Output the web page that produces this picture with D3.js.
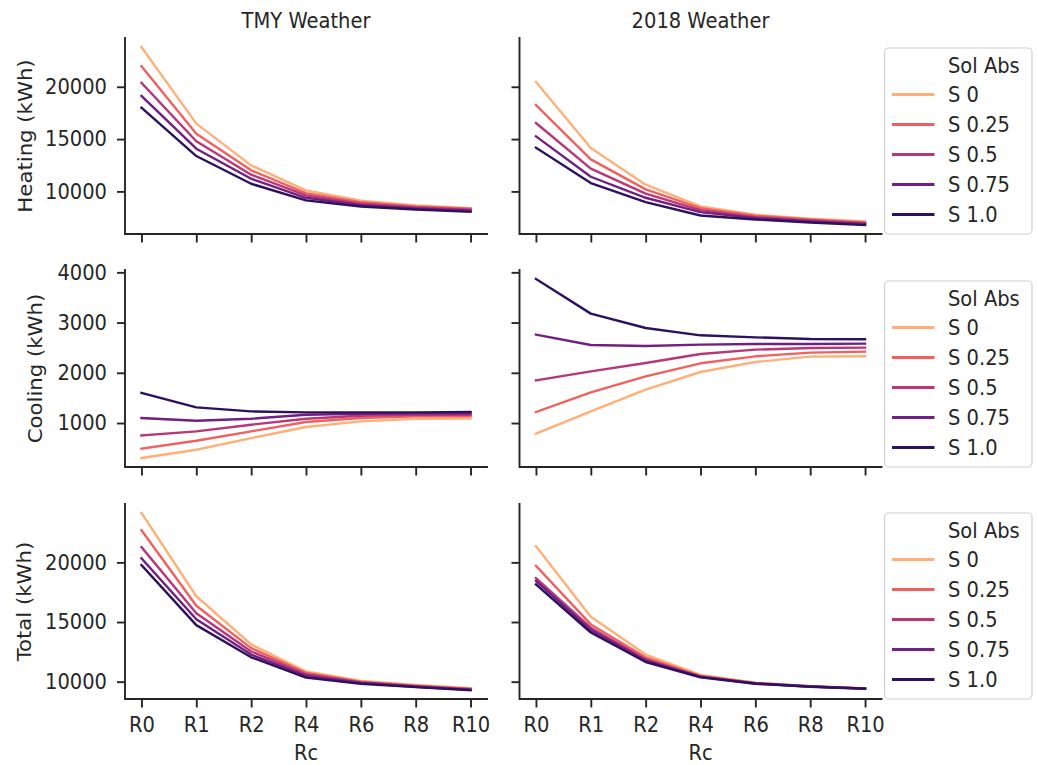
<!DOCTYPE html>
<html>
<head>
<meta charset="utf-8">
<script src="https://cdn.jsdelivr.net/npm/d3@7"></script>
<style>
  html, body { margin: 0; padding: 0; background: #ffffff; }
  svg { display: block; }
  text { font-family: "DejaVu Sans", sans-serif; fill: #262626; }
</style>
</head>
<body>
<svg id="chart" width="1038" height="765"></svg>
<script>
// ---------------- data ----------------
const categories = ["R0", "R1", "R2", "R4", "R6", "R8", "R10"];
const solAbs = ["S 0", "S 0.25", "S 0.5", "S 0.75", "S 1.0"];
const weatherTitles = ["TMY Weather", "2018 Weather"];
const rowLabels = ["Heating (kWh)", "Cooling (kWh)", "Total (kWh)"];
const xLabel = "Rc";
const legendTitle = "Sol Abs";

const yTicksHeating = [10000, 15000, 20000];
const yTicksCooling = [1000, 2000, 3000, 4000];
const yTicksTotal = [10000, 15000, 20000];

// one row per Sol Abs level (S 0 ... S 1.0), one column per Rc category
const heatingTMY = [
  [23810, 16480, 12490, 10100, 9110, 8660, 8400],
  [21960, 15520, 12010, 9840, 8980, 8560, 8340],
  [20370, 14790, 11600, 9620, 8820, 8460, 8250],
  [19120, 14080, 11210, 9390, 8690, 8370, 8150],
  [18000, 13380, 10730, 9140, 8560, 8270, 8050]
];
const heating2018 = [
  [20460, 14150, 10640, 8560, 7770, 7380, 7130],
  [18260, 13060, 10190, 8400, 7670, 7320, 7030],
  [16540, 12170, 9780, 8210, 7540, 7220, 6970],
  [15260, 11400, 9390, 8020, 7450, 7130, 6870],
  [14180, 10800, 8980, 7700, 7320, 7030, 6780]
];
const coolingTMY = [
  [303, 469, 700, 920, 1033, 1086, 1090],
  [489, 648, 834, 1020, 1100, 1133, 1135],
  [754, 834, 967, 1086, 1146, 1166, 1166],
  [1100, 1046, 1086, 1166, 1186, 1192, 1195],
  [1600, 1312, 1232, 1212, 1212, 1212, 1219]
];
const cooling2018 = [
  [788, 1232, 1664, 2016, 2215, 2321, 2328],
  [1219, 1611, 1930, 2189, 2328, 2401, 2421],
  [1850, 2029, 2195, 2374, 2461, 2494, 2500],
  [2760, 2554, 2534, 2560, 2574, 2574, 2580],
  [3868, 3178, 2892, 2746, 2706, 2673, 2667]
];
const totalTMY = [
  [24150, 17160, 13120, 10850, 10060, 9720, 9460],
  [22700, 16360, 12810, 10740, 10000, 9660, 9400],
  [21280, 15740, 12530, 10620, 9940, 9630, 9375],
  [20340, 15230, 12270, 10480, 9890, 9570, 9320],
  [19770, 14740, 12045, 10340, 9830, 9545, 9290]
];
const total2018 = [
  [21360, 15450, 12270, 10570, 9920, 9630, 9430],
  [19710, 14800, 12045, 10480, 9890, 9610, 9430],
  [18680, 14520, 11870, 10430, 9860, 9600, 9420],
  [18450, 14320, 11760, 10400, 9850, 9590, 9420],
  [18150, 14120, 11650, 10370, 9830, 9575, 9410]
];

// ---------------- layout ----------------
const FONT = 19.5;
const SY = 1.09;            // vertical glyph stretch seen in the reference
const INK = "#262626";
const cols = [{ x0: 125, x1: 487 }, { x0: 519.5, x1: 881.5 }];
const rows = [
  { y0: 38, y1: 234, ticks: yTicksHeating, labelX: 25.5, data: [heatingTMY, heating2018] },
  { y0: 270, y1: 467, ticks: yTicksCooling, labelX: 35.5, data: [coolingTMY, cooling2018] },
  { y0: 504, y1: 699, ticks: yTicksTotal, labelX: 25, data: [totalTMY, total2018] }
];
const color = d3.scaleOrdinal()
  .domain(solAbs)
  .range(solAbs.map((d, i) => d3.interpolateMagma((5 - i) / 6)));

const svg = d3.select("#chart");

function label(parent, x, y, txt, anchor, extra) {
  return parent.append("text")
    .attr("transform", `translate(${x},${y}) scale(1,${SY})` + (extra || ""))
    .attr("text-anchor", anchor || "start")
    .style("font-size", FONT + "px")
    .text(txt);
}

// column titles
weatherTitles.forEach((t, c) => {
  label(svg, (cols[c].x0 + cols[c].x1) / 2, 27.5, t, "middle");
});

rows.forEach((row, r) => {
  const all = row.data.flat(2);
  const [mn, mx] = d3.extent(all);
  const pad = (mx - mn) * 0.05;
  const y = d3.scaleLinear().domain([mn - pad, mx + pad]).range([row.y1, row.y0]);

  // row label (rotated)
  svg.append("text")
    .attr("transform", `translate(${row.labelX},${(row.y0 + row.y1) / 2}) scale(1,${SY}) rotate(-90)`)
    .attr("dy", "0.32em")
    .attr("text-anchor", "middle")
    .style("font-size", FONT + "px")
    .text(rowLabels[r]);

  cols.forEach((col, c) => {
    const x = d3.scalePoint().domain(categories).range([col.x0, col.x1]).padding(0.3);
    const g = svg.append("g");

    // lines
    const line = d3.line().x((d, i) => x(categories[i])).y(d => y(d));
    row.data[c].forEach((series, s) => {
      g.append("path")
        .datum(series)
        .attr("d", line)
        .attr("fill", "none")
        .attr("stroke", color(solAbs[s]))
        .attr("stroke-width", 2.4)
        .attr("stroke-linejoin", "round")
        .attr("stroke-linecap", "square");
    });

    // y axis
    const yAxis = d3.axisLeft(y).tickValues(row.ticks).tickSize(8).tickPadding(10)
      .tickFormat(c === 0 ? d3.format("d") : () => "");
    const ya = g.append("g").attr("transform", `translate(${col.x0},0)`).call(yAxis);
    ya.select(".domain").remove();
    ya.selectAll(".tick line").attr("stroke", INK).attr("stroke-width", 1.9);
    ya.selectAll(".tick text").style("font-size", FONT + "px")
      .style("font-family", "DejaVu Sans").attr("fill", INK)
      .attr("transform", `scale(1,${SY})`);

    // x axis
    const xAxis = d3.axisBottom(x).tickSize(8.5).tickPadding(7.9)
      .tickFormat(r === 2 ? (d => d) : () => "");
    const xa = g.append("g").attr("transform", `translate(0,${row.y1})`).call(xAxis);
    xa.select(".domain").remove();
    xa.selectAll(".tick line").attr("stroke", INK).attr("stroke-width", 1.9);
    xa.selectAll(".tick text").style("font-size", FONT + "px")
      .style("font-family", "DejaVu Sans").attr("fill", INK)
      .attr("transform", `scale(1,${SY})`);

    // spines (left + bottom)
    g.append("path")
      .attr("d", `M${col.x0},${row.y0}V${row.y1}H${col.x1}`)
      .attr("fill", "none")
      .attr("stroke", INK)
      .attr("stroke-width", 1.9)
      .attr("stroke-linecap", "square");

    if (r === 2) {
      label(svg, (col.x0 + col.x1) / 2, 760, xLabel, "middle");
    }
  });

  // legend
  const lh = 186, lx = 884.5, lw = 147.5;
  const ly = row.y1 - lh;
  const lg = svg.append("g");
  lg.append("rect")
    .attr("x", lx).attr("y", ly).attr("width", lw).attr("height", lh)
    .attr("rx", 4).attr("ry", 4)
    .attr("fill", "#ffffff").attr("fill-opacity", 0.8)
    .attr("stroke", "#d0d0d0").attr("stroke-width", 1.2);
  label(lg, 948, ly + 17.5 + 0.35 * FONT * SY, legendTitle);
  solAbs.forEach((s, i) => {
    const yy = ly + 46.5 + i * 30;
    lg.append("line")
      .attr("x1", 892).attr("x2", 934.5).attr("y1", yy).attr("y2", yy)
      .attr("stroke", color(s)).attr("stroke-width", 2.8);
    label(lg, 948, yy + 0.35 * FONT * SY, s);
  });
});
</script>
</body>
</html>
